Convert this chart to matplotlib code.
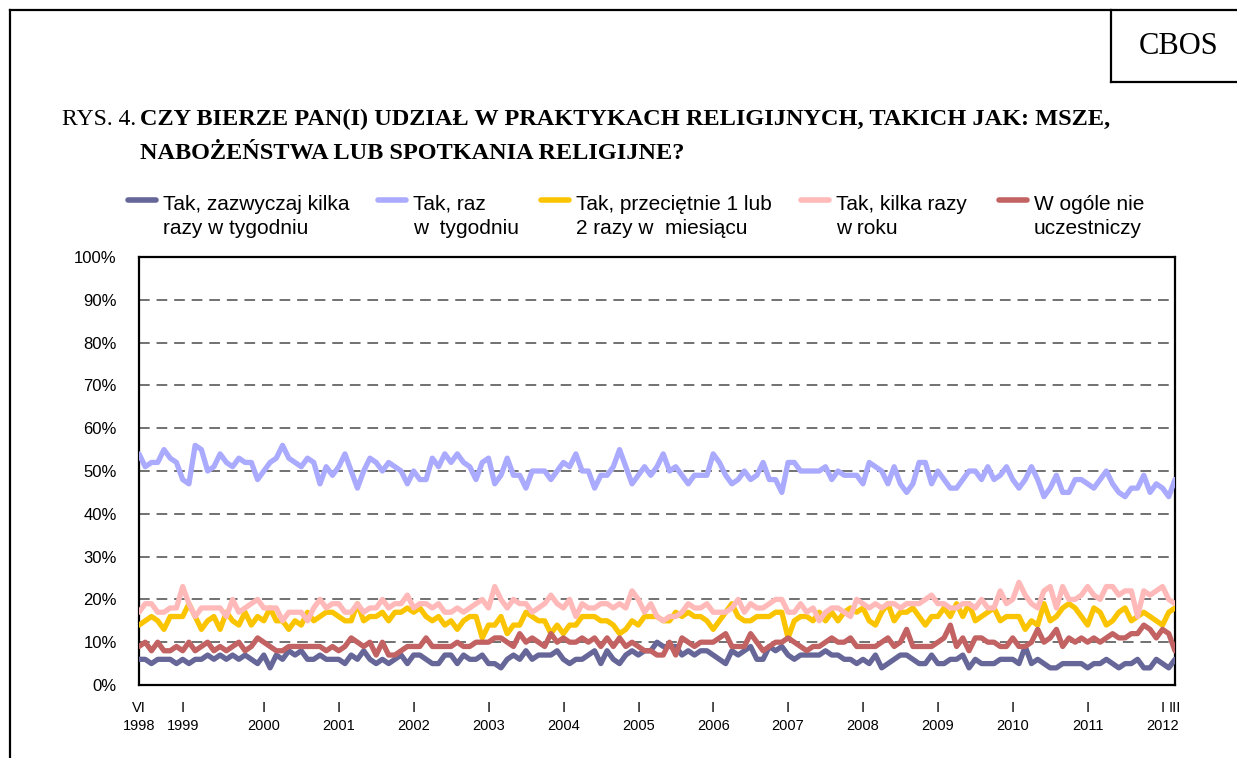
import matplotlib
matplotlib.use('Agg')
import matplotlib.pyplot as plt
from matplotlib.lines import Line2D
import numpy as np

# monthly surveys VI 1998 - III 2012, values in %
kilka_w_tyg = [6, 6, 5, 6, 6, 6, 5, 6, 5, 6, 6, 7, 6, 7, 6, 7, 6, 7, 6, 5,
               7, 4, 7, 6, 8, 7, 8, 6, 6, 7, 6, 6, 6, 5, 7, 6, 8, 6, 5, 6,
               5, 6, 7, 5, 7, 7, 6, 5, 5, 7, 7, 5, 7, 6, 6, 7, 5, 5, 4,
               6, 7, 6, 8, 6, 7, 7, 7, 8, 6, 5, 6, 6, 7, 8, 5, 8, 6, 5, 7,
               8, 7, 8, 8, 10, 9, 9, 9, 7, 8, 7, 8, 8, 7, 6, 5, 8, 7, 8, 9,
               6, 6, 9, 8, 9, 7, 6, 7, 7, 7, 7, 8, 7, 7, 6,
               6, 5, 6, 5, 7, 4, 5, 6, 7, 7, 6, 5, 5, 7, 5, 5, 6, 6, 7, 4,
               6, 5, 5, 5, 6, 6, 6, 5, 9, 5, 6, 5, 4, 4, 5, 5, 5, 5, 4, 5,
               5, 6, 5, 4, 5, 5, 6, 4, 4, 6, 5, 4, 6]

raz_w_tyg = [54, 51, 52, 52, 55, 53, 52, 48, 47, 56, 55, 50, 51, 54, 52, 51, 53, 52, 52, 48,
             50, 52, 53, 56, 53, 52, 51, 53, 52, 47, 51, 49, 51, 54, 50, 46, 50, 53, 52, 50,
             52, 51, 50, 47, 50, 48, 48, 53, 51, 54, 52, 54, 52, 51, 48, 52, 53, 47,
             49, 53, 49, 49, 46, 50, 50, 50, 48, 50, 52, 51, 54, 50, 50, 46, 49, 49, 51, 55,
             51, 47, 49, 51, 49, 51, 54, 50, 51, 49, 47, 49, 49, 49, 54, 52, 49, 47, 48, 50,
             48, 49, 52, 48, 48, 45, 52, 52, 50, 50, 50, 50, 51, 48, 50, 49,
             49, 49, 47, 52, 51, 50, 47, 51, 47, 45, 47, 52, 52, 47, 50, 48, 46, 46, 48, 50,
             50, 48, 51, 48, 49, 51, 48, 46, 48, 51, 48, 44, 46, 49, 45, 45, 48, 48, 47, 46,
             48, 50, 47, 45, 44, 46, 46, 49, 45, 47, 46, 44, 48]

raz_dwa_w_mies = [14, 15, 16, 15, 13, 16, 16, 16, 19, 16, 13, 15, 16, 13, 17, 15, 14, 17, 14, 16,
                  15, 18, 15, 15, 13, 15, 14, 17, 15, 16, 17, 17, 16, 15, 15, 19, 15, 16, 16, 17,
                  15, 17, 17, 18, 17, 18, 16, 15, 16, 14, 15, 13, 15, 16, 16, 11, 14, 14,
                  16, 12, 14, 14, 17, 16, 15, 15, 12, 14, 12, 14, 14, 16, 16, 16, 15, 15, 14, 12,
                  13, 15, 14, 16, 16, 16, 15, 15, 17, 16, 17, 16, 16, 15, 13, 15, 17, 19, 16, 15,
                  15, 16, 16, 16, 17, 17, 11, 15, 16, 16, 15, 17, 15, 17, 15, 17,
                  18, 17, 18, 15, 14, 17, 19, 15, 17, 17, 18, 16, 14, 16, 16, 18, 16, 19, 16, 19,
                  15, 16, 17, 18, 15, 16, 16, 16, 13, 15, 14, 19, 15, 16, 18, 19, 18, 16, 14, 18,
                  17, 14, 15, 17, 18, 15, 16, 17, 16, 15, 14, 17, 18]

kilka_w_roku = [17, 19, 19, 17, 17, 18, 18, 23, 19, 16, 18, 18, 18, 18, 16, 20, 17, 18, 19, 20,
                18, 18, 18, 15, 17, 17, 17, 15, 18, 20, 18, 19, 19, 17, 17, 19, 17, 18, 18, 20,
                18, 19, 19, 21, 18, 19, 19, 18, 19, 17, 17, 18, 17, 18, 19, 20, 18, 23,
                20, 18, 20, 19, 19, 17, 18, 19, 21, 19, 18, 20, 16, 19, 18, 18, 19, 19, 18, 19,
                18, 22, 20, 17, 19, 16, 15, 16, 16, 17, 19, 18, 18, 19, 17, 17, 17, 18, 20, 17,
                19, 18, 18, 19, 20, 20, 17, 17, 19, 17, 18, 15, 17, 18, 18, 17,
                16, 20, 19, 18, 19, 18, 19, 19, 18, 19, 19, 19, 20, 21, 19, 19, 18, 18, 19, 19,
                18, 20, 18, 18, 22, 19, 20, 24, 21, 19, 18, 22, 23, 18, 23, 20, 20, 21, 23, 21,
                20, 23, 23, 21, 22, 22, 16, 22, 21, 22, 23, 20, 19]

nie_uczestniczy = [9, 10, 8, 10, 8, 8, 9, 8, 10, 8, 9, 10, 8, 9, 8, 9, 10, 8, 9, 11,
                   10, 9, 8, 8, 9, 9, 9, 9, 9, 9, 8, 9, 8, 9, 11, 10, 9, 10, 7, 10,
                   7, 7, 8, 9, 9, 9, 11, 9, 9, 9, 9, 10, 9, 9, 10, 10, 10, 11,
                   11, 10, 9, 12, 10, 11, 10, 9, 12, 10, 11, 10, 10, 11, 10, 11, 9, 11, 9, 11,
                   9, 10, 9, 8, 8, 7, 7, 10, 7, 11, 10, 9, 10, 10, 10, 11, 12, 9, 9, 9,
                   12, 10, 8, 9, 10, 10, 11, 10, 9, 8, 9, 9, 10, 11, 10, 10,
                   11, 9, 9, 9, 9, 10, 11, 9, 10, 13, 9, 9, 9, 9, 10, 11, 14, 9, 11, 8,
                   11, 11, 10, 10, 9, 9, 11, 9, 9, 10, 13, 10, 11, 13, 9, 11, 10, 11, 10, 11,
                   10, 11, 12, 11, 11, 12, 12, 14, 13, 11, 13, 12, 8]

series = [kilka_w_tyg, raz_w_tyg, raz_dwa_w_mies, kilka_w_roku, nie_uczestniczy]
labels = ['Tak, zazwyczaj kilka\nrazy w tygodniu',
          'Tak, raz\nw  tygodniu',
          'Tak, przeciętnie 1 lub\n2 razy w  miesiącu',
          'Tak, kilka razy\nw roku',
          'W ogóle nie\nuczestniczy']
colors = ['#666699', '#AAAAFF', '#FAC400', '#FFB9B9', '#C26262']

# survey index of month labels, month labels and years under them
tick_idx = [0, 7, 20, 32, 44, 56, 68, 80, 92, 104, 116, 128, 140, 152, 164, 166]
month_lab = ['VI'] + ['I'] * 14 + ['III']
year_lab = ['1998', '1999', '2000', '2001', '2002', '2003', '2004', '2005',
            '2006', '2007', '2008', '2009', '2010', '2011', '2012']

W, H = 1237, 758
fig = plt.figure(figsize=(W / 100, H / 100), dpi=100)
SANS = 'Liberation Sans'
SERIF = 'Liberation Serif'


def fx(x):
    return x / W


def fy(y):
    return 1 - y / H


ax = fig.add_axes([fx(139), fy(685), fx(1175) - fx(139), fy(257) - fy(685)])

x = np.arange(len(raz_w_tyg))
for s, c in zip(series, colors):
    ax.plot(x, s, color=c, lw=3.8, solid_capstyle='round', solid_joinstyle='round', zorder=3)

ax.set_xlim(0, len(raz_w_tyg) - 1)
ax.set_ylim(0, 100)
ax.set_yticks(range(0, 101, 10))
ax.set_yticklabels([f'{v}%' for v in range(0, 101, 10)], fontfamily=SANS, fontsize=12)
for v in range(10, 100, 10):
    ax.axhline(v, color='#4a4a4a', lw=1.1, dashes=(7, 4.5), zorder=1)
ax.set_xticks(tick_idx)
ax.set_xticklabels(month_lab, fontfamily=SANS, fontsize=10.5)
ax.tick_params(axis='both', length=0)
ax.tick_params(axis='y', pad=16)
ax.tick_params(axis='x', pad=11.5)
for i, yl in zip(tick_idx, year_lab):
    ax.annotate(yl, xy=(i, 0), xycoords=('data', 'axes fraction'), xytext=(0, -29.5),
                textcoords='offset points', ha='center', va='center',
                fontfamily=SANS, fontsize=10.5)
for sp in ax.spines.values():
    sp.set_linewidth(1.6)
    sp.set_color('black')

# legend drawn by hand
leg_x = [163, 413, 576, 836, 1034]
for lx, lab, c in zip(leg_x, labels, colors):
    fig.add_artist(Line2D([fx(lx - 35), fx(lx - 7)], [fy(200), fy(200)], color=c, lw=4,
                          solid_capstyle='round'))
    for k, line in enumerate(lab.split('\n')):
        fig.text(fx(lx), fy(204 + 24 * k), line, fontfamily=SANS, fontsize=15,
                 va='center', ha='left')

# title
fig.text(fx(62), fy(125), 'RYS. 4.', fontfamily=SERIF, fontsize=17, va='baseline')
fig.text(fx(140), fy(125), 'CZY BIERZE PAN(I) UDZIAŁ W PRAKTYKACH RELIGIJNYCH, TAKICH JAK: MSZE,',
         fontfamily=SERIF, fontsize=17.5, fontweight='bold', va='baseline')
fig.text(fx(140), fy(159), 'NABOŻEŃSTWA LUB SPOTKANIA RELIGIJNE?',
         fontfamily=SERIF, fontsize=17.5, fontweight='bold', va='baseline')

# frame and CBOS box
frame = dict(color='black', lw=1.6, transform=fig.transFigure)
fig.add_artist(Line2D([fx(10), fx(10)], [fy(10), fy(758)], **frame))
fig.add_artist(Line2D([fx(10), fx(1237)], [fy(10), fy(10)], **frame))
fig.add_artist(Line2D([fx(1111), fx(1111)], [fy(10), fy(82)], **frame))
fig.add_artist(Line2D([fx(1111), fx(1237)], [fy(82), fy(82)], **frame))
fig.text(fx(1179), fy(47), 'CBOS', fontfamily=SERIF, fontsize=22, ha='center', va='center')

fig.savefig('out.png', dpi=100)
